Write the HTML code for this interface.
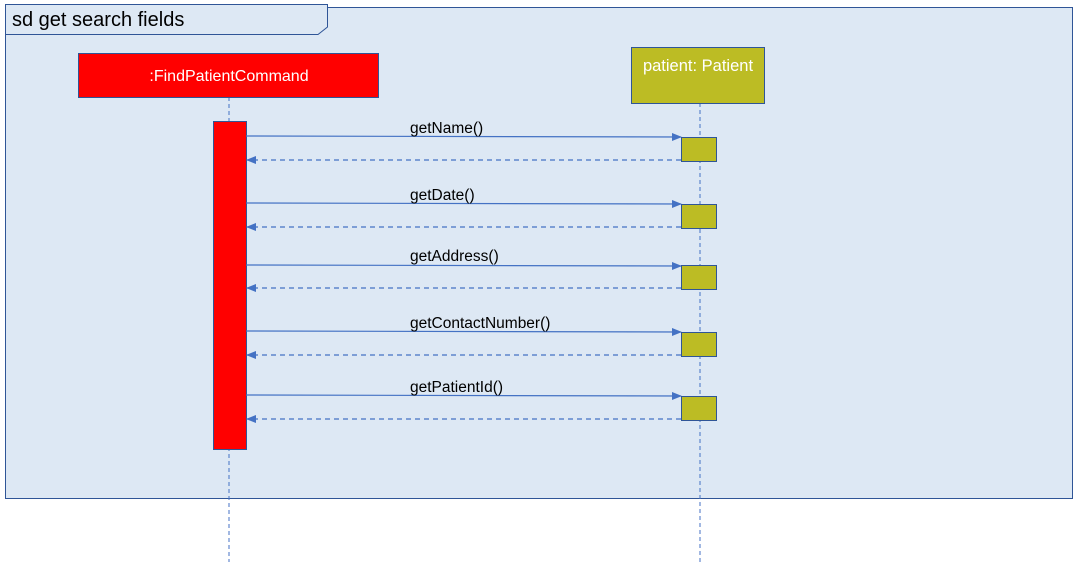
<!DOCTYPE html>
<html><head><meta charset="utf-8"><style>
body{margin:0;background:#fff;width:1080px;height:572px;overflow:hidden}
svg text{font-family:"Liberation Sans",sans-serif}
</style></head><body>
<svg width="1080" height="572" xmlns="http://www.w3.org/2000/svg">
<defs>
<marker id="a" markerWidth="10" markerHeight="8" refX="9" refY="4" orient="auto" markerUnits="userSpaceOnUse"><path d="M0,0 L10,4 L0,8 z" fill="#4472c4"/></marker>
</defs>
<rect x="5.5" y="7.5" width="1067" height="491" fill="#dde8f4" stroke="#2f5597" stroke-width="1"/>
<path d="M5.5,4.5 H327.5 V27 L318,34.5 H5.5 Z" fill="#dde8f4" stroke="#2f5597" stroke-width="1"/>
<text x="12" y="26" font-size="20" fill="#000">sd get search fields</text>
<line x1="229" y1="97" x2="229" y2="562" stroke="#4472c4" stroke-dasharray="4,3"/>
<line x1="700" y1="103" x2="700" y2="562" stroke="#4472c4" stroke-dasharray="4,3"/>
<rect x="78.5" y="53.5" width="300" height="44" fill="#ff0000" stroke="#2f5597"/>
<text x="229" y="81" font-size="16" fill="#fff" text-anchor="middle">:FindPatientCommand</text>
<rect x="631.5" y="47.5" width="133" height="56" fill="#bcbc24" stroke="#2f5597"/>
<text x="698" y="71" font-size="16.5" fill="#fff" text-anchor="middle">patient: Patient</text>
<rect x="213.5" y="121.5" width="33" height="328" fill="#ff0000" stroke="#2f5597"/>
<g stroke="#4472c4" stroke-width="1.2" fill="none">
<line x1="246" y1="136" x2="681" y2="137" marker-end="url(#a)"/>
<line x1="681" y1="160" x2="247" y2="160" stroke-dasharray="5,4" marker-end="url(#a)"/>
<line x1="246" y1="203" x2="681" y2="204" marker-end="url(#a)"/>
<line x1="681" y1="227" x2="247" y2="227" stroke-dasharray="5,4" marker-end="url(#a)"/>
<line x1="246" y1="265" x2="681" y2="266" marker-end="url(#a)"/>
<line x1="681" y1="288" x2="247" y2="288" stroke-dasharray="5,4" marker-end="url(#a)"/>
<line x1="246" y1="331" x2="681" y2="332" marker-end="url(#a)"/>
<line x1="681" y1="355" x2="247" y2="355" stroke-dasharray="5,4" marker-end="url(#a)"/>
<line x1="246" y1="395" x2="681" y2="396" marker-end="url(#a)"/>
<line x1="681" y1="419" x2="247" y2="419" stroke-dasharray="5,4" marker-end="url(#a)"/>
</g>
<g fill="#bcbc24" stroke="#2f5597">
<rect x="681.5" y="137.5" width="35" height="24"/>
<rect x="681.5" y="204.5" width="35" height="24"/>
<rect x="681.5" y="265.5" width="35" height="24"/>
<rect x="681.5" y="332.5" width="35" height="24"/>
<rect x="681.5" y="396.5" width="35" height="24"/>
</g>
<g font-size="15.5" fill="#000">
<text x="410" y="133">getName()</text>
<text x="410" y="200">getDate()</text>
<text x="410" y="261">getAddress()</text>
<text x="410" y="328">getContactNumber()</text>
<text x="410" y="392">getPatientId()</text>
</g>
</svg>
</body></html>
